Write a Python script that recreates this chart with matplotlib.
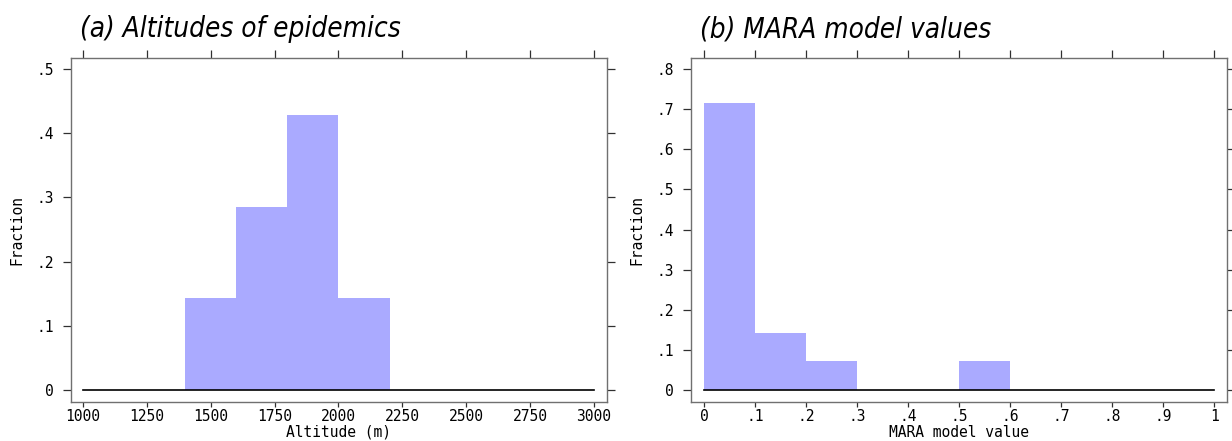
import matplotlib
matplotlib.use("Agg")
import matplotlib.pyplot as plt

# --- dati ---
alt_edges = [1400, 1600, 1800, 2000]
alt_width = 200
alt_frac = [0.1429, 0.2857, 0.4286, 0.1429]
alt_range = [1000, 3000]
alt_xticks = [1000, 1250, 1500, 1750, 2000, 2250, 2500, 2750, 3000]
alt_yticks = [0, 0.1, 0.2, 0.3, 0.4, 0.5]
alt_ylabels = ["0", ".1", ".2", ".3", ".4", ".5"]

mara_edges = [0.0, 0.1, 0.2, 0.3, 0.4, 0.5]
mara_width = 0.1
mara_frac = [0.7143, 0.1429, 0.0714, 0.0, 0.0, 0.0714]
mara_range = [0, 1]
mara_xticks = [0, 0.1, 0.2, 0.3, 0.4, 0.5, 0.6, 0.7, 0.8, 0.9, 1.0]
mara_xlabels = ["0", ".1", ".2", ".3", ".4", ".5", ".6", ".7", ".8", ".9", "1"]
mara_yticks = [0, 0.1, 0.2, 0.3, 0.4, 0.5, 0.6, 0.7, 0.8]
mara_ylabels = ["0", ".1", ".2", ".3", ".4", ".5", ".6", ".7", ".8"]

bar_col = "#aaaaff"
spine_col = "#707070"
mono = "DejaVu Sans Mono"

fig = plt.figure(figsize=(12.32, 4.41), dpi=100)
ax1 = fig.add_axes([0.0576, 0.0884, 0.4351, 0.780])
ax2 = fig.add_axes([0.5609, 0.0884, 0.4351, 0.780])


def stile(ax, xticks, xlabels, yticks, ylabels, xlabel, title):
    ax.set_xticks(xticks)
    ax.set_xticklabels(xlabels, family=mono, fontsize=10.5)
    ax.set_yticks(yticks)
    ax.set_yticklabels(ylabels, family=mono, fontsize=10.5)
    ax.tick_params(direction="out", width=0.9, color="#303030",
                   top=True, right=True, labeltop=False, labelright=False)
    ax.tick_params(axis="x", length=3.6, pad=1.5)
    ax.tick_params(axis="y", length=6, pad=6.5)
    # tacche in alto più lunghe
    for t in ax.xaxis.get_major_ticks():
        t.tick2line.set_markersize(6)
    for s in ax.spines.values():
        s.set_color(spine_col)
        s.set_linewidth(1.0)
    ax.set_xlabel(xlabel, family=mono, fontsize=10.5)
    ax.xaxis.set_label_coords(0.5, -0.0885)
    ax.xaxis.label.set_va("center")
    ax.set_ylabel("Fraction", family=mono, fontsize=10.5)
    ax.yaxis.set_label_coords(-0.1007, 0.5)
    ax.yaxis.label.set_va("center")
    ax.yaxis.label.set_rotation_mode("default")
    ax.text(0.017, 1.061, title, transform=ax.transAxes, family="DejaVu Sans",
            fontstretch="condensed", style="italic", fontsize=20,
            ha="left", va="baseline")


# (a)
ax1.bar(alt_edges, alt_frac, width=alt_width, align="edge", color=bar_col,
        edgecolor="none")
ax1.plot(alt_range, [0, 0], color="black", lw=1.2)
ax1.set_xlim(953, 3051)
ax1.set_ylim(-0.0187, 0.5171)
stile(ax1, alt_xticks, [str(v) for v in alt_xticks], alt_yticks, alt_ylabels,
      "Altitude (m)", "(a) Altitudes of epidemics")

# (b)
ax2.bar(mara_edges, mara_frac, width=mara_width, align="edge", color=bar_col,
        edgecolor="none")
ax2.plot(mara_range, [0, 0], color="black", lw=1.2)
ax2.set_xlim(-0.0255, 1.0255)
ax2.set_ylim(-0.0299, 0.8274)
stile(ax2, mara_xticks, mara_xlabels, mara_yticks, mara_ylabels,
      "MARA model value", "(b) MARA model values")

fig.savefig("out.png", dpi=100)
